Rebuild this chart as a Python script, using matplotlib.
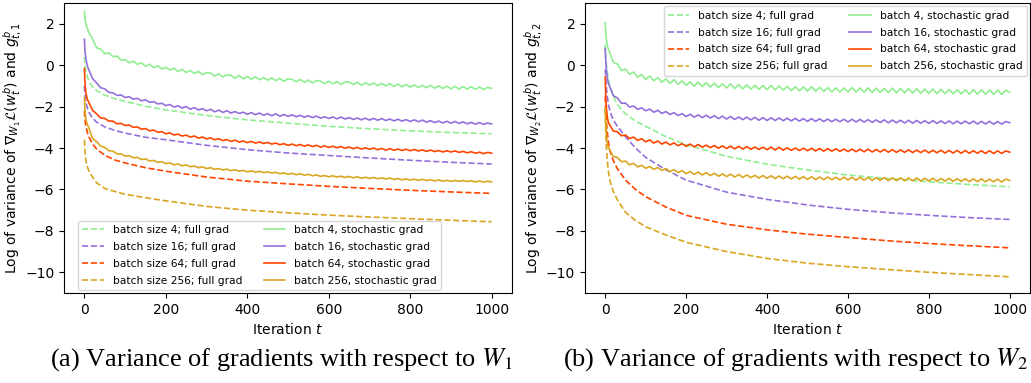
import matplotlib
matplotlib.use("Agg")
import matplotlib.pyplot as plt

stoch_t = [0, 1, 2, 3, 4, 6, 8] + list(range(10, 1001, 10))
full_t = [0, 1, 2, 3, 5, 8, 12, 20, 30, 50, 75, 100, 150, 200,
          300, 400, 500, 600, 700, 800, 900, 1000]

batches = [4, 16, 64, 256]
colors = ["#90ee90", "#9370db", "#ff4500", "#daa520"]

# ---- panel (a): W1 ----
w1_full_4 = [0.4, 0.15, -0.05, -0.2, -0.4, -0.6, -0.8, -1.05, -1.22, -1.45, -1.62, -1.75,
             -1.98, -2.16, -2.43, -2.64, -2.8, -2.95, -3.07, -3.17, -3.25, -3.31]
w1_full_16 = [-1.0, -1.3, -1.5, -1.65, -1.9, -2.1, -2.3, -2.55, -2.75, -2.98, -3.15, -3.28,
              -3.48, -3.6, -3.87, -4.08, -4.24, -4.36, -4.48, -4.59, -4.69, -4.77]
w1_full_64 = [-2.2, -2.5, -2.7, -2.85, -3.05, -3.3, -3.5, -3.8, -4.05, -4.35, -4.58, -4.72,
              -4.95, -5.12, -5.4, -5.6, -5.73, -5.85, -5.95, -6.04, -6.12, -6.19]
w1_full_256 = [-3.6, -4.0, -4.3, -4.5, -4.75, -4.95, -5.15, -5.4, -5.68, -5.95, -6.1, -6.23,
               -6.4, -6.55, -6.82, -7.0, -7.13, -7.24, -7.33, -7.41, -7.49, -7.56]

w1_stoch_4 = [2.6, 2.38, 2.2, 2.08, 1.98, 1.85, 1.74,
              1.62, 1.26, 0.84, 0.78, 0.55, 0.6, 0.41, 0.44, 0.24, 0.27,
              0.11, 0.2, 0.04, 0.12, -0.06, 0.05, -0.12, -0.02, -0.19, -0.1,
              -0.24, -0.14, -0.31, -0.2, -0.36, -0.25, -0.41, -0.3, -0.46, -0.36,
              -0.38, -0.53, -0.41, -0.57, -0.46, -0.49, -0.63, -0.5, -0.66, -0.55,
              -0.68, -0.56, -0.7, -0.6, -0.73, -0.61, -0.75, -0.64, -0.78, -0.66,
              -0.68, -0.8, -0.69, -0.83, -0.72, -0.86, -0.74, -0.77, -0.89, -0.78,
              -0.9, -0.79, -0.93, -0.81, -0.8, -0.94, -0.83, -0.97, -0.85, -0.96,
              -0.86, -0.99, -0.88, -1.0, -0.89, -1.03, -0.91, -1.04, -0.93, -1.06,
              -0.95, -1.08, -0.97, -1.09, -0.98, -1.11, -1.0, -1.12, -1.01, -1.14,
              -1.02, -1.15, -1.03, -1.16, -1.04, -1.17, -1.05, -1.18, -1.07, -1.12]
w1_stoch_16 = [1.25, 0.85, 0.6, 0.42, 0.28, 0.08, -0.08,
               -0.18, -0.64, -0.86, -1.09, -1.14, -1.31, -1.33, -1.46, -1.44, -1.56,
               -1.52, -1.64, -1.6, -1.72, -1.67, -1.79, -1.76, -1.87, -1.84, -1.95,
               -1.9, -2.02, -1.96, -2.07, -2.0, -2.12, -2.05, -2.16, -2.1, -2.2,
               -2.13, -2.25, -2.17, -2.28, -2.2, -2.31, -2.24, -2.33, -2.27, -2.37,
               -2.29, -2.39, -2.31, -2.42, -2.34, -2.44, -2.35, -2.46, -2.38, -2.47,
               -2.4, -2.49, -2.42, -2.51, -2.44, -2.53, -2.46, -2.56, -2.49, -2.57,
               -2.5, -2.59, -2.51, -2.6, -2.53, -2.62, -2.55, -2.64, -2.56, -2.65,
               -2.57, -2.66, -2.58, -2.67, -2.6, -2.69, -2.61, -2.7, -2.63, -2.72,
               -2.64, -2.73, -2.65, -2.75, -2.68, -2.77, -2.7, -2.79, -2.71, -2.8,
               -2.72, -2.81, -2.74, -2.83, -2.76, -2.85, -2.77, -2.86, -2.79, -2.84]
w1_stoch_64 = [-0.16, -0.7, -1.0, -1.2, -1.35, -1.55, -1.68,
               -1.76, -2.18, -2.35, -2.55, -2.57, -2.7, -2.7, -2.83, -2.81, -2.91,
               -2.89, -3.0, -2.98, -3.09, -3.06, -3.17, -3.13, -3.24, -3.21, -3.31,
               -3.27, -3.37, -3.33, -3.42, -3.38, -3.47, -3.42, -3.52, -3.47, -3.56,
               -3.51, -3.6, -3.55, -3.64, -3.59, -3.68, -3.62, -3.71, -3.66, -3.74,
               -3.68, -3.76, -3.71, -3.78, -3.73, -3.81, -3.76, -3.84, -3.79, -3.87,
               -3.81, -3.89, -3.83, -3.91, -3.85, -3.93, -3.87, -3.96, -3.9, -3.97,
               -3.91, -3.99, -3.93, -4.01, -3.95, -4.03, -3.97, -4.05, -3.99, -4.06,
               -4.0, -4.08, -4.02, -4.1, -4.03, -4.11, -4.05, -4.12, -4.06, -4.13,
               -4.07, -4.14, -4.09, -4.16, -4.1, -4.17, -4.12, -4.19, -4.13, -4.19,
               -4.14, -4.21, -4.16, -4.23, -4.18, -4.25, -4.2, -4.27, -4.21, -4.25]
w1_stoch_256 = [-1.55, -2.0, -2.3, -2.5, -2.62, -2.78, -2.9,
                -2.98, -3.53, -3.69, -3.91, -3.97, -4.13, -4.15, -4.28, -4.28, -4.39,
                -4.37, -4.47, -4.45, -4.55, -4.53, -4.62, -4.6, -4.69, -4.66, -4.75,
                -4.72, -4.81, -4.77, -4.86, -4.82, -4.9, -4.87, -4.95, -4.91, -4.99,
                -4.95, -5.03, -4.99, -5.06, -5.02, -5.09, -5.05, -5.12, -5.08, -5.15,
                -5.1, -5.17, -5.12, -5.19, -5.15, -5.21, -5.17, -5.24, -5.2, -5.27,
                -5.22, -5.29, -5.24, -5.31, -5.27, -5.34, -5.3, -5.37, -5.33, -5.39,
                -5.34, -5.4, -5.36, -5.42, -5.37, -5.44, -5.39, -5.46, -5.41, -5.47,
                -5.42, -5.48, -5.44, -5.5, -5.45, -5.52, -5.47, -5.54, -5.49, -5.55,
                -5.5, -5.56, -5.51, -5.57, -5.53, -5.59, -5.54, -5.6, -5.56, -5.61,
                -5.56, -5.61, -5.57, -5.62, -5.58, -5.64, -5.59, -5.65, -5.6, -5.64]

# ---- panel (b): W2 ----
w2_full_4 = [1.0, 0.6, 0.3, 0.05, -0.3, -0.7, -1.05, -1.5, -1.9, -2.35, -2.7, -2.95,
             -3.45, -3.84, -4.4, -4.78, -5.06, -5.3, -5.48, -5.63, -5.76, -5.87]
w2_full_16 = [-0.2, -0.55, -0.85, -1.1, -1.5, -1.9, -2.25, -2.65, -2.95, -3.45, -4.0, -4.45,
              -5.05, -5.55, -6.13, -6.48, -6.75, -6.96, -7.12, -7.25, -7.36, -7.45]
w2_full_64 = [-1.5, -2.0, -2.4, -2.75, -3.2, -3.75, -4.15, -4.6, -5.0, -5.55, -6.0, -6.35,
              -6.85, -7.25, -7.68, -7.95, -8.16, -8.32, -8.48, -8.61, -8.72, -8.82]
w2_full_256 = [-2.1, -3.0, -3.6, -4.0, -4.6, -5.15, -5.6, -6.1, -6.5, -7.1, -7.5, -7.8,
               -8.2, -8.55, -9.0, -9.33, -9.56, -9.73, -9.87, -10.0, -10.11, -10.22]

w2_stoch_4 = [2.05, 1.7, 1.45, 1.25, 1.1, 0.9, 0.75,
              0.66, 0.14, 0.06, -0.26, -0.18, -0.44, -0.33, -0.58, -0.45, -0.69,
              -0.52, -0.75, -0.6, -0.82, -0.66, -0.88, -0.7, -0.92, -0.76, -0.97,
              -0.8, -1.01, -0.82, -1.03, -0.85, -1.05, -0.87, -1.08, -0.9, -1.1,
              -0.9, -1.12, -0.94, -1.14, -0.95, -1.16, -0.97, -1.17, -0.98, -1.18,
              -0.98, -1.19, -1.0, -1.21, -1.02, -1.23, -1.04, -1.24, -1.05, -1.25,
              -1.04, -1.26, -1.07, -1.27, -1.08, -1.29, -1.09, -1.3, -1.1, -1.29,
              -1.08, -1.3, -1.1, -1.31, -1.09, -1.32, -1.11, -1.31, -1.12, -1.32,
              -1.11, -1.33, -1.12, -1.34, -1.13, -1.35, -1.14, -1.36, -1.15, -1.36,
              -1.15, -1.37, -1.16, -1.38, -1.17, -1.39, -1.18, -1.39, -1.18, -1.4,
              -1.18, -1.4, -1.19, -1.41, -1.2, -1.41, -1.2, -1.42, -1.21, -1.3]
w2_stoch_16 = [0.8, 0.3, 0.0, -0.25, -0.42, -0.7, -0.9,
               -0.98, -1.47, -1.58, -1.84, -1.83, -2.02, -1.97, -2.13, -2.06, -2.2,
               -2.12, -2.27, -2.18, -2.33, -2.24, -2.38, -2.29, -2.43, -2.34, -2.48,
               -2.37, -2.51, -2.4, -2.53, -2.42, -2.55, -2.44, -2.58, -2.46, -2.6,
               -2.48, -2.62, -2.5, -2.63, -2.51, -2.64, -2.52, -2.66, -2.53, -2.67,
               -2.54, -2.67, -2.55, -2.68, -2.56, -2.69, -2.57, -2.7, -2.58, -2.71,
               -2.58, -2.71, -2.59, -2.72, -2.6, -2.73, -2.61, -2.73, -2.61, -2.74,
               -2.61, -2.74, -2.62, -2.75, -2.63, -2.76, -2.64, -2.77, -2.64, -2.78,
               -2.65, -2.78, -2.66, -2.79, -2.66, -2.8, -2.67, -2.8, -2.68, -2.81,
               -2.68, -2.81, -2.69, -2.82, -2.69, -2.83, -2.7, -2.83, -2.7, -2.83,
               -2.7, -2.84, -2.71, -2.84, -2.71, -2.85, -2.72, -2.85, -2.72, -2.78]
w2_stoch_64 = [-0.56, -1.3, -1.75, -2.05, -2.3, -2.6, -2.78,
               -2.84, -3.18, -3.21, -3.41, -3.37, -3.54, -3.47, -3.63, -3.55, -3.7,
               -3.61, -3.76, -3.66, -3.81, -3.71, -3.85, -3.75, -3.89, -3.79, -3.92,
               -3.81, -3.94, -3.83, -3.96, -3.86, -3.98, -3.88, -4.01, -3.9, -4.02,
               -3.91, -4.04, -3.92, -4.05, -3.93, -4.06, -3.95, -4.07, -3.96, -4.08,
               -3.96, -4.09, -3.97, -4.1, -3.99, -4.11, -4.0, -4.12, -4.01, -4.13,
               -4.01, -4.14, -4.02, -4.15, -4.03, -4.15, -4.04, -4.16, -4.05, -4.17,
               -4.05, -4.18, -4.06, -4.18, -4.06, -4.19, -4.07, -4.19, -4.07, -4.2,
               -4.08, -4.21, -4.09, -4.21, -4.09, -4.22, -4.1, -4.22, -4.1, -4.23,
               -4.11, -4.23, -4.11, -4.24, -4.12, -4.24, -4.12, -4.25, -4.12, -4.25,
               -4.13, -4.25, -4.13, -4.26, -4.13, -4.26, -4.14, -4.26, -4.14, -4.2]
w2_stoch_256 = [-2.05, -2.7, -3.1, -3.4, -3.6, -3.85, -3.98,
                -4.04, -4.41, -4.45, -4.66, -4.63, -4.81, -4.74, -4.91, -4.83, -4.98,
                -4.89, -5.03, -4.94, -5.08, -4.99, -5.14, -5.04, -5.19, -5.09, -5.24,
                -5.13, -5.27, -5.16, -5.3, -5.19, -5.33, -5.22, -5.36, -5.25, -5.38,
                -5.26, -5.4, -5.28, -5.42, -5.3, -5.43, -5.32, -5.45, -5.33, -5.46,
                -5.34, -5.47, -5.35, -5.48, -5.36, -5.49, -5.37, -5.5, -5.38, -5.51,
                -5.39, -5.52, -5.4, -5.53, -5.4, -5.53, -5.41, -5.54, -5.41, -5.54,
                -5.41, -5.55, -5.42, -5.55, -5.42, -5.56, -5.43, -5.56, -5.43, -5.57,
                -5.44, -5.57, -5.44, -5.58, -5.45, -5.58, -5.45, -5.59, -5.46, -5.59,
                -5.46, -5.6, -5.47, -5.6, -5.47, -5.61, -5.48, -5.61, -5.48, -5.62,
                -5.49, -5.62, -5.49, -5.63, -5.5, -5.63, -5.5, -5.64, -5.5, -5.57]

panels = [
    ([w1_full_4, w1_full_16, w1_full_64, w1_full_256],
     [w1_stoch_4, w1_stoch_16, w1_stoch_64, w1_stoch_256],
     r"Log of variance of $\nabla_{W_1}\mathcal{L}(w_t^b)$ and $g_{t,1}^b$",
     r"(a) Variance of gradients with respect to $W_1$"),
    ([w2_full_4, w2_full_16, w2_full_64, w2_full_256],
     [w2_stoch_4, w2_stoch_16, w2_stoch_64, w2_stoch_256],
     r"Log of variance of $\nabla_{W_2}\mathcal{L}(w_t^b)$ and $g_{t,2}^b$",
     r"(b) Variance of gradients with respect to $W_2$"),
]

fig = plt.figure(figsize=(10.31, 3.83), dpi=100)
ax_pos = [[0.0621, 0.235, 0.4345, 0.757], [0.5674, 0.235, 0.4316, 0.757]]
cap_x = [0.273, 0.7715]

for i, (full, stoch, ylab, cap) in enumerate(panels):
    ax = fig.add_axes(ax_pos[i])
    for b, c, ys in zip(batches, colors, full):
        ax.plot(full_t, ys, "--", color=c, lw=1.2, label=f"batch size {b}; full grad")
    for b, c, ys in zip(batches, colors, stoch):
        ax.plot(stoch_t, ys, "-", color=c, lw=1.2, label=f"batch {b}, stochastic grad")
    ax.set_xlim(-50, 1050)
    ax.set_ylim(-11, 3)
    ax.set_yticks([2, 0, -2, -4, -6, -8, -10])
    ax.tick_params(labelsize=10)
    ax.set_xlabel(r"Iteration $t$", fontsize=10)
    ax.set_ylabel(ylab, fontsize=10, labelpad=1)
    leg_kw = dict(ncol=2, fontsize=7.7, labelspacing=0.65, handlelength=2.0,
                  handletextpad=0.85, columnspacing=2.0)
    if i == 0:
        ax.legend(loc="lower left", bbox_to_anchor=(0.031, 0.01), borderaxespad=0, **leg_kw)
    else:
        ax.legend(loc="upper right", borderaxespad=0.3, **leg_kw)
    fig.text(cap_x[i], 0.06, cap, ha="center", va="center", fontsize=19,
             family="Liberation Serif", math_fontfamily="stix")

fig.savefig("out.png", dpi=100)
